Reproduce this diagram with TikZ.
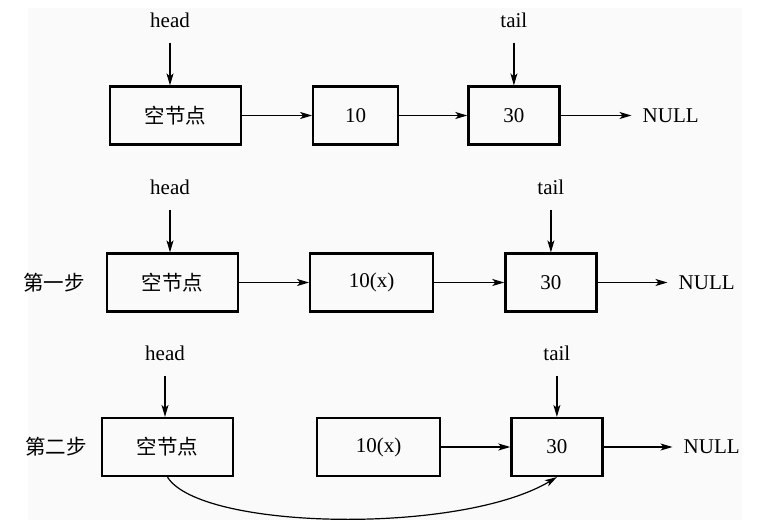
\documentclass[tikz,border=0pt]{standalone}
\usepackage{fontspec}
\setmainfont{Liberation Serif}
\newfontfamily\cjk{Noto Sans CJK SC}
\newcommand{\zh}[1]{{\cjk\fontsize{20.5}{24}\selectfont #1}}
\usetikzlibrary{positioning,arrows.meta}
\tikzset{
  cell/.style={rectangle, draw=black, line width=2.2pt, minimum height=58pt, inner sep=0pt, font=\fontsize{21}{25}\selectfont},
  pointer/.style={inner xsep=1pt, inner ysep=15pt, font=\fontsize{21}{25}\selectfont},
  tag/.style={inner sep=0pt, font=\fontsize{21}{25}\selectfont},
  connect/.style={-{Stealth[length=12pt,width=7pt,inset=3pt]}, line width=1.2pt},
  grounded/.style={connect, shorten >=11pt}
}

\begin{document}
\begin{tikzpicture}[x=1pt,y=-1pt]
  \useasboundingbox (0,0) rectangle (777,530);
  \fill[black!2] (28,8) rectangle (742,520);

  % the list before deleting
  \node[cell, minimum width=131pt] (Empty1) at (175.5,115.5) {\zh{空节点}};
  \node[cell, minimum width=85pt] (Ten1) [right=70pt of Empty1] {10};
  \node[cell, minimum width=91pt] (Thirty1) [right=68pt of Ten1] {30};
  \node[tag] (Null1) [right=82pt of Thirty1] {NULL};
  \node[pointer] (Head1) at (170,20) {head};
  \node[pointer] (Tail1) at (Thirty1.center |- Head1) {tail};

  \path (Empty1) edge [connect] (Ten1);
  \path (Ten1) edge [connect] (Thirty1);
  \path (Thirty1) edge [grounded] (Null1);
  \path (Head1) edge [connect] (Head1 |- Empty1.north);
  \path (Tail1) edge [connect] (Thirty1.north);

  % first step
  \node[cell, minimum width=131pt] (Empty2) at (172.5,282.5) {\zh{空节点}};
  \node[cell, minimum width=123pt] (Ten2) [right=70pt of Empty2] {10(x)};
  \node[cell, minimum width=91pt] (Thirty2) [right=70pt of Ten2] {30};
  \node[tag] (Null2) [right=81pt of Thirty2] {NULL};
  \node[tag] (Step1) [left=21pt of Empty2] {\zh{第一步}};
  \node[pointer] (Head2) at (170,187) {head};
  \node[pointer] (Tail2) at (Thirty2.center |- Head2) {tail};

  \path (Empty2) edge [connect] (Ten2);
  \path (Ten2) edge [connect] (Thirty2);
  \path (Thirty2) edge [grounded] (Null2);
  \path (Head2) edge [connect] (Head2 |- Empty2.north);
  \path (Tail2) edge [connect] (Thirty2.north);

  % second step
  \node[cell, minimum width=131pt] (Empty3) at (167.5,447) {\zh{空节点}};
  \node[cell, minimum width=123pt] (Ten3) [right=82pt of Empty3] {10(x)};
  \node[cell, minimum width=91pt] (Thirty3) [right=69pt of Ten3] {30};
  \node[tag] (Null3) [right=80pt of Thirty3] {NULL};
  \node[tag] (Step2) [left=14pt of Empty3] {\zh{第二步}};
  \node[pointer] (Head3) at (165,353) {head};
  \node[pointer] (Tail3) at (Thirty3.center |- Head3) {tail};

  \path (Ten3) edge [connect] (Thirty3);
  \path (Thirty3) edge [grounded] (Null3);
  \path (Head3) edge [connect] (Head3 |- Empty3.north);
  \path (Tail3) edge [connect] (Thirty3.north);
  \draw[connect] (Empty3.south) .. controls +(33,53) and +(-97,58) .. (Thirty3.south);
\end{tikzpicture}
\end{document}
